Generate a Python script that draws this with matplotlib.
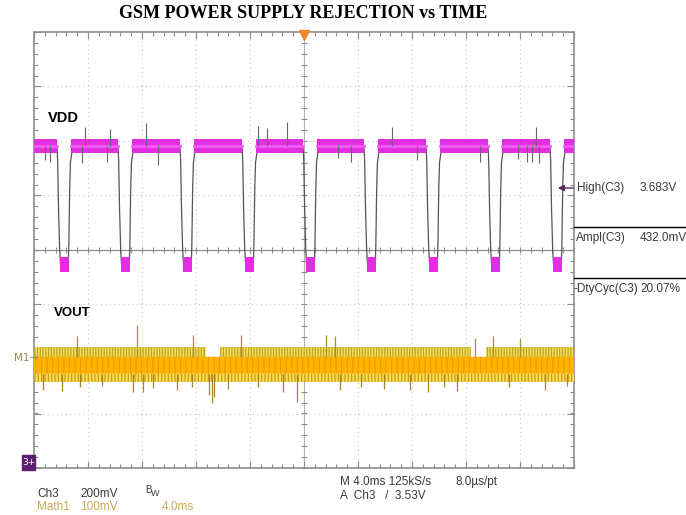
import numpy as np
import matplotlib.pyplot as plt
from matplotlib.patches import Rectangle

W, H = 686, 515

# ---- Ch3 (VDD): volts, 200 mV/div, screen centre at ~3.30 V ----
ch3_center_v = 3.301
ch3_v_per_div = 0.200
vdd_high_v = 3.683
vdd_ampl_v = 0.432
vdd_fall_ms = [-18.30, -13.78, -9.19, -4.59, -0.07, 4.44, 9.04, 13.63, 18.22]
# shape of one GSM burst: ms after the falling edge vs fraction of amplitude left
burst_dt_ms = [0.0, 0.05, 0.12, 0.20, 0.26, 0.84, 0.88, 0.94, 1.00, 1.10, 1.25, 1.45]
burst_level = [1.0, 0.88, 0.45, 0.12, 0.0, 0.0, 0.15, 0.62, 0.86, 0.94, 0.98, 1.0]
vdd_spike_ms = [-19.19, -18.80, -16.44, -16.22, -14.59, -14.37, -11.70, -10.81,
                -3.41, -2.74, -1.26, 2.52, 3.48, 6.52, 8.37, 13.04, 15.85,
                16.52, 16.90, 17.19, 17.40]
vdd_spike_v = [3.630, 3.623, 3.619, 3.751, 3.623, 3.744, 3.766, 3.612,
               3.755, 3.748, 3.770, 3.640, 3.623, 3.751, 3.630, 3.623, 3.635,
               3.623, 3.623, 3.751, 3.619]

# ---- Math1 (VOUT): mV about the M1 marker, 100 mV/div ----
m1_zero_div = -2.0
math1_mv_per_div = 100.0
vout_band_mv = (22, -42)
vout_core_mv = (4, -27)
vout_gap_ms = [(-7.2, -6.2), (12.4, 13.5)]
vout_up_ms = [-16.81, -12.37, -8.22, -4.67, 1.63, 2.30, 12.67, 14.00, 16.00]
vout_up_mv = [42, 62, 44, 44, 44, 42, 38, 42, 38]
vout_dn_ms = [-19.33, -17.93, -16.6, -15.0, -12.67, -11.93, -11.2, -9.41, -8.3,
              -7.04, -6.81, -6.67, -5.6, -3.4, -1.56, -0.52, 2.67, 4.2, 5.9,
              7.85, 9.19, 10.4, 11.33, 15.2, 17.85, 19.48]
vout_dn_mv = [-57, -59, -52, -50, -60, -60, -54, -57, -52,
              -66, -81, -70, -55, -52, -60, -79, -57, -52, -55,
              -57, -60, -52, -59, -52, -57, -50]


def px(x, y):
    return x / W, 1 - y / H


def vdiv(v):
    return (np.asarray(v) - ch3_center_v) / ch3_v_per_div


def mdiv(mv):
    return m1_zero_div + np.asarray(mv) / math1_mv_per_div


plt.rcParams["hatch.linewidth"] = 0.9
fig = plt.figure(figsize=(W / 100, H / 100), dpi=100)
fig.patch.set_facecolor("white")
ax = fig.add_axes([34 / W, 1 - 468 / H, 540 / W, 436 / H])
ax.set_xlim(-20, 20)
ax.set_ylim(-4, 4)
ax.axis("off")

# graticule
gc = "#8e8e8e"
for x in np.arange(-16, 17, 4):
    if x != 0:
        ax.axvline(x, color="#c6c6c6", lw=0.8, ls=(0, (1, 3)), zorder=0)
for y in range(-3, 4):
    if y != 0:
        ax.axhline(y, color="#c6c6c6", lw=0.8, ls=(0, (1, 3)), zorder=0)
ax.axhline(0, color=gc, lw=0.9, zorder=1)
ax.axvline(0, color="#b4b4b4", lw=0.8, zorder=1)
ax.add_patch(Rectangle((-20, -4), 40, 8, fill=False, ec=gc, lw=1.2, clip_on=False, zorder=1))
mx = np.arange(-20, 20.01, 0.8)
my = np.arange(-4, 4.01, 0.2)
bx = np.arange(-20, 20.01, 4)
by = np.arange(-4, 4.01, 1)
kw = dict(color=gc, lw=0.8, clip_on=False, zorder=1)
ax.vlines(mx, 4 - 0.07, 4, **kw)
ax.vlines(mx, -4, -4 + 0.07, **kw)
ax.vlines(bx, 4 - 0.13, 4, **kw)
ax.vlines(bx, -4, -4 + 0.13, **kw)
ax.vlines(mx, -0.06, 0.06, **kw)
ax.hlines(my, -20, -20 + 0.28, **kw)
ax.hlines(my, 20 - 0.28, 20, **kw)
ax.hlines(by, -20, -20 + 0.5, **kw)
ax.hlines(by, 20 - 0.5, 20, **kw)
ax.hlines(my, -0.22, 0.22, **kw)

# VDD trace
tx, ty = [-20.0], [vdd_high_v]
for t0 in vdd_fall_ms:
    for dt, lv in zip(burst_dt_ms, burst_level):
        tx.append(t0 + dt)
        ty.append(vdd_high_v - vdd_ampl_v * (1 - lv))
tx.append(20.0)
ty.append(vdd_high_v)
ax.plot(tx, vdiv(ty), color="#555555", lw=0.9, zorder=3)

mag = "#e02ee0"
hi_starts = [-20.0] + [t + 1.02 for t in vdd_fall_ms]
hi_ends = [t + 0.03 for t in vdd_fall_ms] + [20.0]
for a, b in zip(hi_starts, hi_ends):
    if b > a:
        ax.fill_between([a, b], vdiv(vdd_high_v - 0.026), vdiv(vdd_high_v + 0.024),
                        color=mag, lw=0, zorder=4)
        ax.plot([a, b], [vdiv(vdd_high_v)] * 2, color="#f25ef2", lw=2.0, zorder=4)
low_v = vdd_high_v - vdd_ampl_v
for t0 in vdd_fall_ms:
    ax.fill_between([t0 + 0.2, t0 + 0.9], vdiv(low_v - 0.03), vdiv(low_v + 0.024),
                    color=mag, lw=0, zorder=4)
ax.vlines(vdd_spike_ms, vdiv(vdd_high_v), vdiv(vdd_spike_v), color="#666666", lw=0.8, zorder=5)

# VOUT trace
band_hi, band_lo = mdiv(vout_band_mv[0]), mdiv(vout_band_mv[1])
core_hi, core_lo = mdiv(vout_core_mv[0]), mdiv(vout_core_mv[1])
tt = np.linspace(-20, 20, 801)
open_top = np.ones_like(tt, dtype=bool)
for a, b in vout_gap_ms:
    open_top &= ~((tt > a) & (tt < b))
ax.fill_between(tt, core_hi, band_hi, where=open_top, facecolor="#eee45a",
                edgecolor="#c49c26", hatch="||||||", lw=0, zorder=3)
ax.fill_between(tt, band_lo, core_lo, facecolor="#f4df50",
                edgecolor="#d29818", hatch="|||||", lw=0, zorder=3)
ax.fill_between(tt, core_lo, core_hi, facecolor="#ffb400",
                edgecolor="#f29a00", hatch="|||", lw=0, zorder=4)
ax.vlines(vout_up_ms, core_hi, mdiv(vout_up_mv), color="#a8912e", lw=0.9, zorder=5)
ax.vlines(vout_dn_ms, core_lo, mdiv(vout_dn_mv), color="#a8822a", lw=0.9, zorder=5)

# trigger marker
ax.plot([0], [3.94], marker="v", ms=7, color="#f0862a", clip_on=False, zorder=6)

# labels on the screen
sans = "Liberation Sans"
fig.text(*px(48, 118), "VDD", fontsize=10.5, fontweight="bold", family=sans, va="center")
fig.text(*px(54, 313), "VOUT", fontsize=9.5, fontweight="bold", family=sans, va="center")
fig.text(*px(14, 358), "M1\u2192", fontsize=7.5, color="#9a8a4a", va="center")
fig.add_artist(Rectangle(px(22, 470), 13 / W, 15 / H, color="#5c1e6e", transform=fig.transFigure))
fig.text(*px(28.5, 462.5), "3+", fontsize=6.5, color="white", ha="center", va="center")

fig.text(*px(303, 14), "GSM POWER SUPPLY REJECTION vs TIME", fontsize=13, fontweight="bold",
         family="Liberation Serif", ha="center", va="center")

# measurements
tc = "#3a3a3a"
fs = 8.5
ax.annotate("", xy=px(555, 188), xytext=px(576, 188), xycoords="figure fraction",
            textcoords="figure fraction",
            arrowprops=dict(arrowstyle="-|>", color="#5a2a5a", lw=1, mutation_scale=9))
fig.text(*px(577, 188), "High(C3)", fontsize=fs, family=sans, color=tc, va="center")
fig.text(*px(640, 188), "3.683V", fontsize=fs, family=sans, color=tc, va="center")
fig.add_artist(plt.Line2D([574 / W, 1], [1 - 227 / H] * 2, color="black", lw=1))
fig.text(*px(576, 238), "Ampl(C3)", fontsize=fs, family=sans, color=tc, va="center")
fig.text(*px(640, 238), "432.0mV", fontsize=fs, family=sans, color=tc, va="center")
fig.add_artist(plt.Line2D([574 / W, 1], [1 - 278 / H] * 2, color="black", lw=1))
fig.text(*px(573, 289), "-DtyCyc(C3)", fontsize=fs, family=sans, color=tc, va="center")
fig.text(*px(640, 289), "20.07%", fontsize=fs, family=sans, color=tc, va="center")

# bottom status lines
yc = "#c9aa55"
fig.text(*px(37, 494), "Ch3", fontsize=fs, family=sans, color=tc, va="center")
fig.text(*px(80, 494), "200mV", fontsize=fs, family=sans, color=tc, va="center")
fig.text(*px(145, 490), "B", fontsize=7, family=sans, color=tc, va="center")
fig.text(*px(151, 493), "W", fontsize=6.5, family=sans, color=tc, va="center")
fig.text(*px(37, 507), "Math1", fontsize=fs, family=sans, color=yc, va="center")
fig.text(*px(80, 507), "100mV", fontsize=fs, family=sans, color=yc, va="center")
fig.text(*px(162, 507), "4.0ms", fontsize=fs, family=sans, color=yc, va="center")
fig.text(*px(340, 482), "M 4.0ms 125kS/s", fontsize=fs, family=sans, color=tc, va="center")
fig.text(*px(455, 482), "8.0\u00b5s/pt", fontsize=fs, family=sans, color=tc, va="center")
fig.text(*px(340, 496), "A  Ch3   /  3.53V", fontsize=fs, family=sans, color=tc, va="center")

fig.savefig("out.png", dpi=100)
